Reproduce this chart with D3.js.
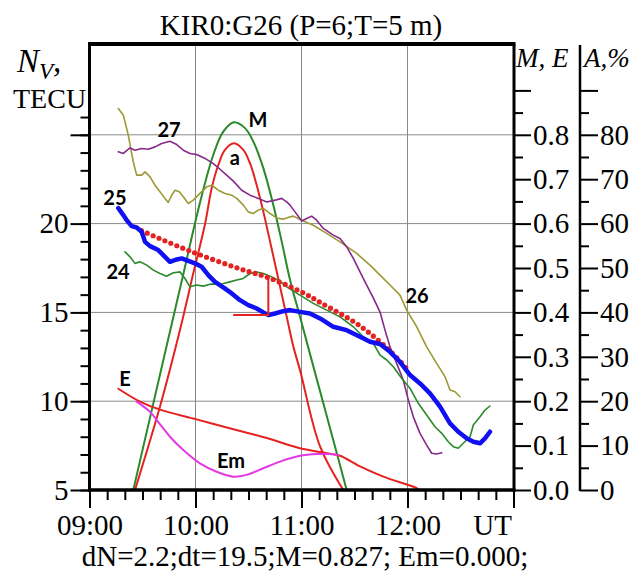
<!DOCTYPE html>
<html><head><meta charset="utf-8">
<script src="https://cdn.jsdelivr.net/npm/d3@7"></script>
<style>body{margin:0;background:#fff} svg{display:block}</style>
</head><body>
<svg id="c" width="636" height="571"></svg>
<script>
// ---------- data (time in UT hours) ----------
const titleText = "KIR0:G26 (P=6;T=5 m)";
const footerText = "dN=2.2;dt=19.5;M=0.827; Em=0.000;";
const hourTicks = [9, 10, 11, 12, 13];
const hourLabels = ["09:00", "10:00", "11:00", "12:00", ""];
const nMajorTicks = [5, 10, 15, 20, 25];
const nLabels = ["5", "10", "15", "20", ""];
const mMajorTicks = [0, 0.1, 0.2, 0.3, 0.4, 0.5, 0.6, 0.7, 0.8, 0.9];
const mLabels = ["0.0", "0.1", "0.2", "0.3", "0.4", "0.5", "0.6", "0.7", "0.8", ""];
const aMajorTicks = [0, 10, 20, 30, 40, 50, 60, 70, 80, 90];
const aLabels = ["0", "10", "20", "30", "40", "50", "60", "70", "80", ""];

// PRN 26 (olive), N in TECU
const prn26 = [[9.272,26.48],[9.319,26.10],[9.366,24.98],[9.413,23.47],[9.445,22.73],[9.492,22.73],[9.524,22.91],[9.571,22.63],[9.618,22.16],[9.665,21.79],[9.712,21.42],[9.743,21.19],[9.775,21.60],[9.807,21.88],[9.847,21.79],[9.885,21.51],[9.932,21.13],[9.979,21.32],[10.042,21.70],[10.106,22.07],[10.153,22.16],[10.215,21.88],[10.278,21.70],[10.342,21.60],[10.389,21.42],[10.451,21.04],[10.498,20.66],[10.545,20.57],[10.592,20.76],[10.640,20.85],[10.703,20.57],[10.766,20.32],[10.828,20.25],[10.892,20.38],[10.923,20.42],[11.002,20.19],[11.111,19.91],[11.238,19.45],[11.363,18.97],[11.521,18.32],[11.646,17.66],[11.741,17.10],[11.835,16.54],[11.929,15.97],[11.992,15.13],[12.087,14.19],[12.181,13.06],[12.275,12.13],[12.354,11.38],[12.401,10.63],[12.448,10.53],[12.495,10.25]];
// PRN 27 (purple)
const prn27 = [[9.272,24.04],[9.319,23.95],[9.382,24.26],[9.429,24.13],[9.492,24.23],[9.555,24.19],[9.618,24.32],[9.681,24.51],[9.759,24.64],[9.823,24.45],[9.885,24.13],[9.948,23.95],[10.011,23.89],[10.090,23.67],[10.168,23.38],[10.231,23.06],[10.294,22.73],[10.357,22.39],[10.436,21.88],[10.514,21.60],[10.592,21.42],[10.672,21.22],[10.750,21.32],[10.813,21.42],[10.860,21.22],[10.892,21.04],[10.939,20.66],[11.002,20.15],[11.049,20.29],[11.096,20.42],[11.143,20.19],[11.206,19.73],[11.300,19.35],[11.363,19.16],[11.426,18.69],[11.489,18.04],[11.552,17.28],[11.615,16.54],[11.677,15.82],[11.741,15.02],[11.788,14.00],[11.835,13.06],[11.898,12.13],[11.960,11.19],[12.008,10.06],[12.055,9.12],[12.118,8.19],[12.181,7.53],[12.228,7.07],[12.275,7.03],[12.323,7.10]];
// PRN 25 (blue, thick)
const prn25 = [[9.272,20.87],[9.319,20.48],[9.351,20.19],[9.398,19.86],[9.445,19.78],[9.492,19.54],[9.524,18.97],[9.571,18.73],[9.649,18.51],[9.712,18.13],[9.759,17.85],[9.823,17.98],[9.870,18.04],[9.932,17.90],[9.995,17.76],[10.058,17.57],[10.121,17.10],[10.184,16.72],[10.262,16.41],[10.342,16.07],[10.420,15.69],[10.498,15.41],[10.577,15.22],[10.640,15.00],[10.689,14.85],[10.750,14.94],[10.828,15.07],[10.892,15.13],[10.986,15.03],[11.080,14.94],[11.175,14.66],[11.300,14.19],[11.426,14.00],[11.552,13.63],[11.646,13.35],[11.741,13.22],[11.835,12.78],[11.929,12.22],[12.024,11.47],[12.118,11.00],[12.212,10.44],[12.307,9.69],[12.401,8.75],[12.479,8.28],[12.558,7.91],[12.621,7.72],[12.684,7.63],[12.731,7.91],[12.778,8.28]];
// PRN 24 (green)
const prn24 = [[9.335,18.41],[9.382,18.13],[9.429,17.76],[9.476,17.85],[9.540,17.66],[9.602,17.38],[9.665,17.19],[9.728,17.04],[9.791,17.23],[9.854,17.28],[9.901,16.91],[9.948,16.44],[10.011,16.54],[10.074,16.48],[10.137,16.59],[10.200,16.59],[10.262,16.63],[10.325,16.72],[10.389,16.82],[10.451,16.91],[10.514,17.19],[10.577,17.28],[10.640,17.19],[10.719,17.00],[10.797,16.76],[10.860,16.44],[10.986,15.97],[11.111,15.51],[11.238,15.13],[11.363,14.75],[11.489,14.19],[11.583,13.63],[11.677,13.26],[11.741,12.60],[11.804,12.32],[11.866,11.94],[11.945,11.29],[12.024,10.72],[12.102,9.88],[12.181,9.22],[12.259,8.56],[12.323,8.19],[12.385,7.72],[12.432,7.44],[12.479,7.35],[12.526,7.63],[12.590,8.00],[12.621,8.66],[12.684,9.12],[12.731,9.50],[12.778,9.73]];
// undisturbed trend (red dotted)
const trend = [[9.49,19.60],[9.95,18.45],[10.42,17.45],[10.69,16.95],[11.00,16.15],[11.18,15.55],[11.55,14.25],[11.84,12.80],[12.02,11.65]];
// eclipse magnitude M (green curve)
const magM = [[9.413,0],[9.571,0.163],[9.728,0.325],[9.885,0.486],[10.042,0.647],[10.168,0.755],[10.262,0.807],[10.363,0.828],[10.467,0.815],[10.545,0.785],[10.640,0.725],[10.734,0.642],[10.813,0.560],[10.892,0.473],[10.986,0.390],[11.111,0.279],[11.300,0.112],[11.426,0]];
// obscuration A, % (red curve "a")
const obscA = [[9.429,0],[9.665,18.8],[9.854,36.1],[9.979,48.8],[10.090,59.9],[10.153,68.0],[10.215,73.2],[10.278,76.6],[10.363,78.1],[10.451,76.6],[10.514,73.6],[10.577,68.7],[10.640,62.7],[10.703,56.0],[10.766,49.2],[10.860,39.1],[10.923,32.3],[10.986,27.0],[11.175,9.8],[11.394,0]];
// E (red line)
const eVals = [[9.272,0.228],[9.476,0.199],[9.665,0.181],[10.011,0.159],[10.357,0.137],[10.672,0.117],[10.986,0.094],[11.238,0.083],[11.363,0.077],[11.552,0.053],[11.772,0.030],[12.087,0.004],[12.11,0]];
// Em (magenta)
const emVals = [[9.445,0.199],[9.571,0.176],[9.649,0.153],[9.759,0.120],[9.885,0.090],[10.042,0.060],[10.200,0.041],[10.357,0.030],[10.483,0.034],[10.640,0.049],[10.797,0.064],[10.986,0.077],[11.143,0.081],[11.255,0.081],[11.349,0.079]];
// dN / dt marker
const markerT = 10.687, markerStartT = 10.362;
const markerN = [14.85, 17.05];
// curve labels (data coords)
const labels = [
  {t:"27", x:9.75, v:24.86}, {t:"M", x:10.59, v:25.43}, {t:"a", x:10.37, v:23.29},
  {t:"25", x:9.24, v:21.04}, {t:"24", x:9.27, v:16.87}, {t:"26", x:12.09, v:15.52},
  {t:"E", x:9.335, v:10.85}, {t:"Em", x:10.335, v:6.24}
];

// ---------- drawing ----------
const svg = d3.select("#c");
const X0 = 89.5, X1 = 513.5, Y0 = 490, Y1 = 46;
const x = d3.scaleLinear().domain([9, 13]).range([X0, X1]);
const yN = d3.scaleLinear().domain([5, 30]).range([Y0, Y1]);
const yM = d3.scaleLinear().domain([0, 1]).range([Y0, Y1]);
const yA = d3.scaleLinear().domain([0, 100]).range([Y0, Y1]);
const serif = "'Liberation Serif','Times New Roman',serif";

svg.append("defs").append("clipPath").attr("id", "clip")
  .append("rect").attr("x", X0).attr("y", 44).attr("width", X1 - X0).attr("height", Y0 - 44);

// grid
const grid = svg.append("g").attr("stroke", "#8a8a8a").attr("stroke-width", 1);
grid.selectAll("line.v").data([10, 11, 12]).join("line")
  .attr("x1", d => x(d)).attr("x2", d => x(d)).attr("y1", 44).attr("y2", Y0);
grid.selectAll("line.h").data([10, 15, 20, 25]).join("line")
  .attr("x1", X0).attr("x2", X1).attr("y1", d => yN(d)).attr("y2", d => yN(d));

function styleAxis(g) {
  g.attr("font-family", serif).attr("font-size", 29);
  g.select(".domain").remove();
  g.selectAll("line").attr("stroke", "#000").attr("stroke-width", 2);
  g.selectAll("text").attr("font-family", serif).attr("font-size", 29).attr("fill", "#000");
}

// left axis
svg.append("g").attr("transform", `translate(${X0},0)`)
  .call(d3.axisLeft(yN).tickValues(d3.range(5, 27, 1)).tickSize(9).tickFormat(""))
  .call(styleAxis);
svg.append("g").attr("transform", `translate(${X0},0)`)
  .call(d3.axisLeft(yN).tickValues(nMajorTicks).tickSize(19).tickPadding(2).tickFormat((d, i) => nLabels[i]))
  .call(styleAxis);

// bottom axis
svg.append("g").attr("transform", `translate(0,${Y0})`)
  .call(d3.axisBottom(x).tickValues(d3.range(0, 25).map(i => 9 + i / 6)).tickSize(10).tickFormat(""))
  .call(styleAxis);
svg.append("g").attr("transform", `translate(0,${Y0})`)
  .call(d3.axisBottom(x).tickValues(hourTicks.slice(0, 4)).tickSize(18).tickPadding(6).tickFormat((d, i) => hourLabels[i]))
  .call(styleAxis);
svg.append("g").attr("transform", `translate(0,${Y0})`)
  .call(d3.axisBottom(x).tickValues(hourTicks.slice(4)).tickSize(18).tickFormat(""))
  .call(styleAxis);
svg.append("text").attr("x", 512).attr("y", 535).attr("text-anchor", "end")
  .attr("font-family", serif).attr("font-size", 29).text("UT");

// right M,E axis
const RX = 514, AX = 580;
svg.append("g").attr("transform", `translate(${RX},0)`)
  .call(d3.axisRight(yM).tickValues(d3.range(0, 9).map(i => 0.05 + i * 0.1)).tickSize(9).tickFormat(""))
  .call(styleAxis);
svg.append("g").attr("transform", `translate(${RX},0)`)
  .call(d3.axisRight(yM).tickValues(mMajorTicks).tickSize(17).tickPadding(2).tickFormat((d, i) => mLabels[i]))
  .call(styleAxis);
// A axis
svg.append("g").attr("transform", `translate(${AX},0)`)
  .call(d3.axisRight(yA).tickValues(d3.range(0, 9).map(i => 5 + i * 10)).tickSize(9).tickFormat(""))
  .call(styleAxis);
svg.append("g").attr("transform", `translate(${AX},0)`)
  .call(d3.axisRight(yA).tickValues(aMajorTicks).tickSize(18).tickPadding(2).tickFormat((d, i) => aLabels[i]))
  .call(styleAxis);

// data layer
const plot = svg.append("g").attr("clip-path", "url(#clip)").attr("fill", "none")
  .attr("stroke-linejoin", "round").attr("stroke-linecap", "round");
const lineN = d3.line().x(d => x(d[0])).y(d => yN(d[1]));
const lineNs = d3.line().x(d => x(d[0])).y(d => yN(d[1])).curve(d3.curveCatmullRom);
const lineM = d3.line().x(d => x(d[0])).y(d => yM(d[1])).curve(d3.curveCatmullRom);
const lineA = d3.line().x(d => x(d[0])).y(d => yA(d[1])).curve(d3.curveCatmullRom);

plot.append("path").attr("d", lineM(magM)).attr("stroke", "#2a8a2a").attr("stroke-width", 2);
plot.append("path").attr("d", lineA(obscA)).attr("stroke", "#e42222").attr("stroke-width", 2);
plot.append("path").attr("d", lineM(eVals)).attr("stroke", "#e42222").attr("stroke-width", 2);
plot.append("path").attr("d", lineM(emVals)).attr("stroke", "#e43ae4").attr("stroke-width", 2);
plot.append("path").attr("d", lineN(prn26)).attr("stroke", "#9b9a35").attr("stroke-width", 1.6);
plot.append("path").attr("d", lineN(prn27)).attr("stroke", "#86288a").attr("stroke-width", 1.6);
plot.append("path").attr("d", lineN(prn24)).attr("stroke", "#2a8a2a").attr("stroke-width", 1.6);
plot.append("path").attr("d", lineNs(trend)).attr("stroke", "#e42222")
  .attr("stroke-width", 5.2).attr("stroke-dasharray", "0 6.4");
plot.append("path").attr("d", lineN(prn25)).attr("stroke", "#1010f0").attr("stroke-width", 4.5);
// marker
plot.append("line").attr("x1", x(markerT)).attr("x2", x(markerT))
  .attr("y1", yN(markerN[0])).attr("y2", yN(markerN[1])).attr("stroke", "#e42222").attr("stroke-width", 2);
plot.append("line").attr("x1", x(markerStartT)).attr("x2", x(markerT))
  .attr("y1", yN(markerN[0])).attr("y2", yN(markerN[0])).attr("stroke", "#e42222").attr("stroke-width", 2);

// curve labels
svg.append("g").selectAll("text").data(labels).join("text")
  .attr("x", d => x(d.x)).attr("y", d => yN(d.v)).attr("text-anchor", "middle")
  .attr("font-family", "Lato, 'Open Sans', sans-serif").attr("font-weight", "bold")
  .attr("font-size", 20).attr("fill", "#000").text(d => d.t);

// frame
const frame = svg.append("g").attr("stroke", "#000");
frame.append("line").attr("x1", X0 - 1.5).attr("x2", RX + 1.5).attr("y1", 44).attr("y2", 44).attr("stroke-width", 4);
frame.append("line").attr("x1", X0).attr("x2", X0).attr("y1", 44).attr("y2", Y0 + 1.5).attr("stroke-width", 3);
frame.append("line").attr("x1", X0 - 1.5).attr("x2", RX + 1.5).attr("y1", Y0).attr("y2", Y0).attr("stroke-width", 3.5);
frame.append("line").attr("x1", RX).attr("x2", RX).attr("y1", 44).attr("y2", Y0 + 1.5).attr("stroke-width", 3);
frame.append("line").attr("x1", AX).attr("x2", AX).attr("y1", 45).attr("y2", Y0 + 1).attr("stroke-width", 2.5);

// titles
svg.append("text").attr("x", 301).attr("y", 35).attr("text-anchor", "middle")
  .attr("font-family", serif).attr("font-size", 29).text(titleText);
svg.append("text").attr("x", 305).attr("y", 566).attr("text-anchor", "middle")
  .attr("font-family", serif).attr("font-size", 29).text(footerText);
const nv = svg.append("text").attr("x", 17).attr("y", 72).attr("font-family", serif)
  .attr("font-style", "italic").attr("font-size", 33);
nv.append("tspan").text("N");
nv.append("tspan").attr("font-size", 23).attr("dy", 7).text("V");
nv.append("tspan").attr("dy", -7).text(",");
svg.append("text").attr("x", 13).attr("y", 108).attr("font-family", serif).attr("font-size", 28).text("TECU");
svg.append("text").attr("x", 516).attr("y", 67).attr("font-family", serif).attr("font-style", "italic")
  .attr("font-size", 27).text("M, E");
svg.append("text").attr("x", 584).attr("y", 67).attr("font-family", serif).attr("font-style", "italic")
  .attr("font-size", 27).text("A,%");
</script></body></html>
